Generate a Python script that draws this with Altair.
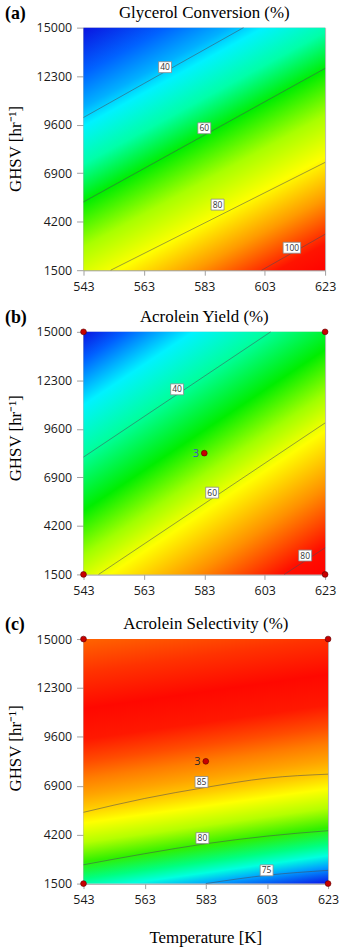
import altair as alt
import pandas as pd

# ---------------- data ----------------
X_TICKS = [543, 563, 583, 603, 623]
Y_TICKS = [1500, 4200, 6900, 9600, 12300, 15000]
X_DOMAIN = [543, 623]
Y_DOMAIN = [1500, 15000]

TITLES = ["Glycerol Conversion (%)", "Acrolein Yield (%)", "Acrolein Selectivity (%)"]
TAGS = ["(a)", "(b)", "(c)"]
Y_TITLE = "GHSV [hr\u207b\u00b9]"
X_TITLE = "Temperature [K]"

# (a) Glycerol conversion contours
A_LEVELS = [40, 60, 80, 100]
A_LINE_T = [[543, 596], [543, 623], [552, 623], [602, 623]]
A_LINE_G = [[10000, 15000], [5300, 12730], [1500, 7500], [1500, 3500]]
A_LABEL_T = [570, 583, 587.4, 612]
A_LABEL_G = [12800, 9400, 5150, 2750]

# (b) Acrolein yield contours
B_LEVELS = [40, 60, 80]
B_LINE_T = [[543, 605], [548, 623], [609.5, 623]]
B_LINE_G = [[8030, 15000], [1500, 9930], [1500, 2980]]
B_LABEL_T = [574, 585.6, 616.4]
B_LABEL_G = [11800, 6050, 2550]

# (c) Acrolein selectivity contours
C_LEVELS = [85, 80, 75]
C_LINE_T = [[543, 563, 583, 603, 623], [543, 563, 583, 603, 623], [583, 603, 623]]
C_LINE_G = [[5435, 6200, 6810, 7320, 7540], [2540, 3150, 3700, 4120, 4420], [1500, 1960, 2230]]
C_LABEL_T = [581.6, 581.9, 602.9]
C_LABEL_G = [7110, 4010, 2230]

# design points (shown in b and c)
DP_T = [543, 623, 543, 623, 583]
DP_G = [15000, 15000, 1500, 1500, 8250]
DP_N = ["", "", "", "", "3"]

# colour ramps (style)
STOPS_A = [(0.00, "#0a14e0"), (0.12, "#0062ff"), (0.21, "#00b0ff"), (0.26, "#00f2ff"),
           (0.36, "#00ffa8"), (0.46, "#00ee00"), (0.58, "#a8ff00"), (0.69, "#ffff00"),
           (0.80, "#ff9a00"), (0.92, "#ff1400"), (1.00, "#ff0000")]
STOPS_B = [(0.00, "#0a14e0"), (0.07, "#0060ff"), (0.13, "#00b0ff"), (0.18, "#00f2ff"),
           (0.30, "#00ffa0"), (0.44, "#00ee00"), (0.55, "#a0ff00"), (0.64, "#ffff00"),
           (0.78, "#ff9000"), (0.92, "#ff1000"), (1.00, "#ff0000")]
STOPS_C = [(0.00, "#ff6400"), (0.12, "#ff3200"), (0.25, "#ff0800"), (0.36, "#ff1800"),
           (0.44, "#ff4c00"), (0.50, "#ff7c00"), (0.56, "#ffa400"), (0.61, "#ffcc00"),
           (0.66, "#ffff00"), (0.73, "#b4ff00"), (0.80, "#30f000"), (0.86, "#00ff80"),
           (0.90, "#00ffe0"), (0.94, "#00a0ff"), (1.00, "#0a14e8")]

SERIF = "Liberation Serif"
SANS = "Open Sans"


def gradient(stops, dx, dy):
    return {"gradient": "linear", "x1": 0, "y1": 0, "x2": dx, "y2": dy,
            "stops": [{"offset": o, "color": c} for o, c in stops]}


def build_panel(i, levels, line_T, line_G, lab_T, lab_G, stops, gdir, w, h,
                ytitle_dy, points=False, count_color="#333", x_title=False):
    xs = alt.Scale(domain=X_DOMAIN, nice=False, zero=False)
    ys = alt.Scale(domain=Y_DOMAIN, nice=False, zero=False)

    def X(f):
        return alt.X(f, scale=xs, title=None)

    def Y(f):
        return alt.Y(f, scale=ys, title=None)

    bg_df = pd.DataFrame({"T0": [X_DOMAIN[0]], "T1": [X_DOMAIN[1]],
                          "G0": [Y_DOMAIN[0]], "G1": [Y_DOMAIN[1]]})
    bg = alt.Chart(bg_df).mark_rect(fill=gradient(stops, *gdir)).encode(
        x=alt.X("T0:Q", scale=xs, title=None,
                axis=alt.Axis(values=X_TICKS, format="d", labelFlush=False,
                              tickSize=5, labelPadding=5)),
        x2="T1:Q",
        y=alt.Y("G0:Q", scale=ys, title=None,
                axis=alt.Axis(values=Y_TICKS, format="d", labelFlush=False,
                              tickSize=7, labelPadding=5)),
        y2="G1:Q",
    )

    rows = []
    for lev, ts, gs in zip(levels, line_T, line_G):
        for k, (t, g) in enumerate(zip(ts, gs)):
            rows.append({"level": lev, "k": k, "T": t, "G": g})
    line_df = pd.DataFrame(rows)
    lines = alt.Chart(line_df).mark_line(color="#4a4a58", strokeWidth=0.9, opacity=0.6,
                                         interpolate="monotone").encode(
        x=X("T:Q"), y=Y("G:Q"), detail="level:N", order="k:Q")

    lab_df = pd.DataFrame({"T": lab_T, "G": lab_G, "txt": [str(v) for v in levels]})
    box2 = alt.Chart(lab_df).transform_filter("length(datum.txt) < 3").mark_rect(
        fill="white", stroke="#8a8a8a", strokeWidth=0.8,
        xOffset=-6.5, x2Offset=6.5, yOffset=-5.5, y2Offset=5.5).encode(
        x=X("T:Q"), x2="T:Q", y=Y("G:Q"), y2="G:Q")
    box3 = alt.Chart(lab_df).transform_filter("length(datum.txt) >= 3").mark_rect(
        fill="white", stroke="#8a8a8a", strokeWidth=0.8,
        xOffset=-8.8, x2Offset=8.8, yOffset=-5.5, y2Offset=5.5).encode(
        x=X("T:Q"), x2="T:Q", y=Y("G:Q"), y2="G:Q")
    labtxt = alt.Chart(lab_df).mark_text(font=SANS, fontSize=8.5, color="#333333",
                                         baseline="middle", align="center").encode(
        x=X("T:Q"), y=Y("G:Q"), text="txt:N")

    layers = [bg, lines, box2, box3, labtxt]

    if points:
        dp_df = pd.DataFrame({"T": DP_T, "G": DP_G, "n": DP_N})
        pts = alt.Chart(dp_df).mark_circle(size=34, color="#c80000", stroke="#5a0000",
                                           strokeWidth=0.6, opacity=1, clip=False).encode(
            x=X("T:Q"), y=Y("G:Q"))
        cnt = alt.Chart(dp_df).transform_filter("datum.n != ''").mark_text(
            font=SANS, fontSize=11, color=count_color, dx=-8.5, dy=1,
            align="center", baseline="middle").encode(
            x=X("T:Q"), y=Y("G:Q"), text="n:N")
        layers += [pts, cnt]

    txt_df = pd.DataFrame({"tag": [TAGS[i]], "title": [TITLES[i]], "yt": [Y_TITLE], "xt": [X_TITLE]})
    tag = alt.Chart(txt_df).mark_text(font=SERIF, fontSize=18, fontWeight="bold",
                                      align="left", baseline="middle", color="black").encode(
        x=alt.value(-79), y=alt.value(-14), text="tag:N")
    ttl = alt.Chart(txt_df).mark_text(font=SERIF, fontSize=17, align="center",
                                      baseline="middle", color="black").encode(
        x=alt.value(w / 2), y=alt.value(-15), text="title:N")
    yt = alt.Chart(txt_df).mark_text(font=SERIF, fontSize=17, align="center", angle=270,
                                     baseline="middle", color="black").encode(
        x=alt.value(-68), y=alt.value(h / 2 + ytitle_dy), text="yt:N")
    layers += [tag, ttl, yt]
    if x_title:
        xt = alt.Chart(txt_df).mark_text(font=SERIF, fontSize=17, align="center",
                                         baseline="middle", color="black").encode(
            x=alt.value(123), y=alt.value(301), text="xt:N")
        layers.append(xt)

    return alt.layer(*layers).properties(width=w, height=h)


pa = build_panel(0, A_LEVELS, A_LINE_T, A_LINE_G, A_LABEL_T, A_LABEL_G,
                 STOPS_A, (0.655, 1.205), 243, 244, 0)
pb = build_panel(1, B_LEVELS, B_LINE_T, B_LINE_G, B_LABEL_T, B_LABEL_G,
                 STOPS_B, (0.772, 1.163), 243, 244, -15, points=True, count_color="#3a4fc8")
pc = build_panel(2, C_LEVELS, C_LINE_T, C_LINE_G, C_LABEL_T, C_LABEL_G,
                 STOPS_C, (0.157, 1.118), 246, 246, -13, points=True, count_color="#2a2a2a",
                 x_title=True)

top = alt.vconcat(pa, pb, spacing=14)
chart = alt.vconcat(top, pc, spacing=17).properties(
    padding={"left": 4, "top": 0, "right": 0, "bottom": 0}
).configure_view(stroke="#b4b4b4", strokeWidth=1).configure_axis(
    domainColor="#a0a0a0", tickColor="#a0a0a0", grid=False,
    labelFont=SANS, labelFontSize=12.5, labelColor="#1a1a1a",
)

chart.save("out.html", embed_options={"renderer": "svg", "actions": False})
